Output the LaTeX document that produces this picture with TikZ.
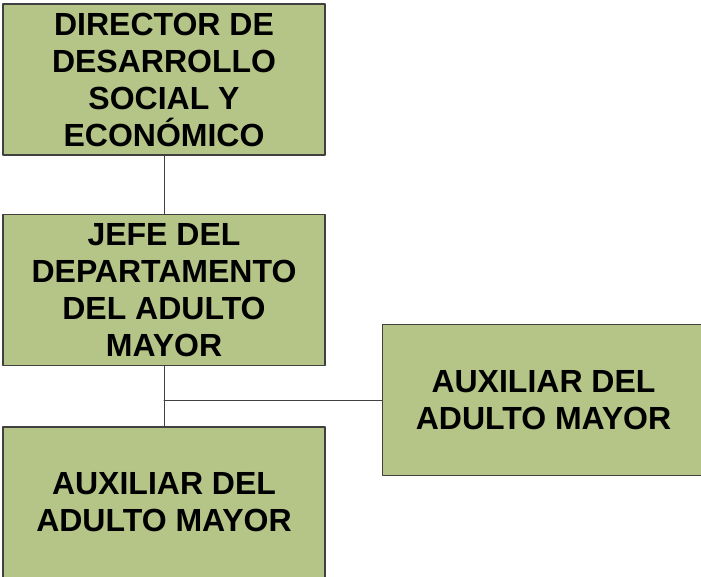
\documentclass[tikz,border=0pt]{standalone}
\usepackage{fontspec}
\setmainfont{Liberation Sans}
\definecolor{boxgreen}{RGB}{181,196,135}
\definecolor{boxline}{RGB}{64,64,64}
\tikzstyle{every node}=[font=\bfseries\fontsize{32}{37}\selectfont]
\tikzstyle{every path}=[line width=1pt,line cap=round,line join=round]
\tikzstyle{puesto}=[draw=boxline,line width=1.5pt,fill=boxgreen,align=center,
  minimum width=322pt,minimum height=151pt,inner sep=0pt]

\begin{document}
\begin{tikzpicture}[x=1pt,y=1pt]
    \useasboundingbox (0,0) rectangle (701,-576);
    % Define named coordinates
    \path (164,-79.5) coordinate (Top)
    ++(0,-210.5) coordinate (Mid)
    ++(0,-212.5) coordinate (Low)
    (Mid)++(379.5,-110) coordinate (Side);

    % Boxes
    \node [puesto] (director) at (Top) {DIRECTOR DE\\DESARROLLO\\SOCIAL Y\\ECONÓMICO};
    \node [puesto] (jefe) at (Mid) {JEFE DEL\\DEPARTAMENTO\\DEL ADULTO\\MAYOR};
    \node [puesto] (auxA) at (Side) {AUXILIAR DEL\\ADULTO MAYOR};
    \node [puesto] (auxB) at (Low) {AUXILIAR DEL\\ADULTO MAYOR};

    % Connections
    \draw [boxline] (director.south) -- (jefe.north)
    (jefe.south) -- (auxB.north)
    (auxA.west) -- (auxA.west -| jefe.south);
\end{tikzpicture}
\end{document}
